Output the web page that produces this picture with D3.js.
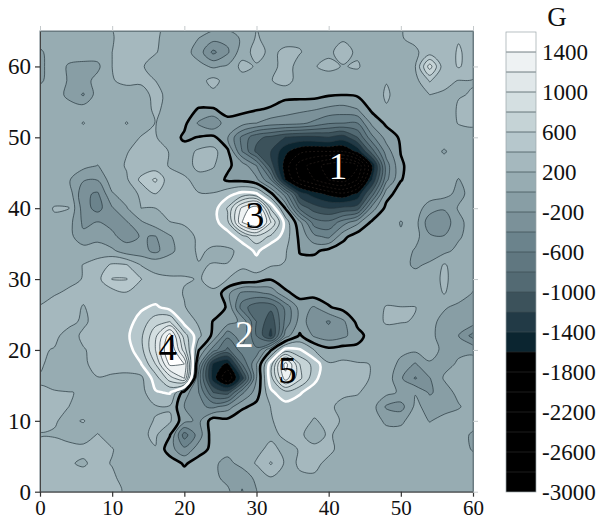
<!DOCTYPE html>
<html>
<head>
<meta charset="utf-8">
<script src="https://cdn.jsdelivr.net/npm/d3@7"></script>
<style>
  body { margin: 0; background: #fff; }
  text { font-family: "Liberation Serif", serif; fill: #111; }
</style>
</head>
<body>
<script>
// field in G, one row per y (66 at the top, 0 at the bottom), x = 0,2,...,60
const xValues = d3.range(0, 61, 2);
const yValues = d3.range(66, -1, -2);
const fieldRows = [
  [100,100,100,100,100,190,320,260,240,130,110,110,110,120,170,200,130,110,110,110,110,120,110,110,110,180,250,260,270,290,270],
  [100,100,100,100,110,180,330,250,230,120,60,0,-120,-150,40,220,130,130,170,100,120,180,110,100,130,190,240,280,290,380,300],
  [-40,120,110,110,90,200,270,240,210,130,80,-90,-450,-230,120,260,160,240,210,130,170,260,170,110,120,130,170,290,260,430,300],
  [-60,130,-30,-60,-40,200,280,220,130,120,100,60,-30,30,260,180,130,280,130,190,240,190,220,100,190,110,195,900,260,420,300],
  [-40,120,-20,-70,60,190,240,230,200,130,110,130,260,120,110,120,190,280,120,110,120,120,110,110,190,110,130,420,240,195,190],
  [110,110,-60,-220,100,110,120,130,250,150,110,110,150,100,100,110,100,60,70,70,20,5,30,80,230,110,130,200,180,190,210],
  [110,100,100,100,110,110,100,100,240,130,70,-10,-10,60,60,20,-20,-100,-150,-180,-240,-270,-200,50,180,110,100,100,100,220,280],
  [100,100,100,210,100,100,210,100,205,120,50,-230,-380,-50,-120,-200,-300,-320,-350,-450,-580,-600,-600,-150,40,100,100,100,100,210,240],
  [100,50,50,100,100,100,100,210,210,120,-40,10,50,-190,-650,-950,-1050,-1200,-1250,-1250,-1200,-1300,-1000,-450,-120,30,100,100,100,100,100],
  [100,130,100,100,100,100,190,260,280,190,100,240,270,40,-600,-1050,-1200,-1550,-1750,-1800,-1800,-1800,-1550,-900,-300,10,100,100,-20,100,100],
  [100,100,100,60,-5,100,220,270,260,190,110,260,220,30,-80,-400,-1100,-1700,-2100,-2300,-2500,-2600,-2400,-1600,-500,-30,100,100,100,100,100],
  [100,100,20,-180,-190,110,170,450,640,250,240,120,100,-30,-50,-150,-600,-1600,-2000,-2200,-2400,-2500,-2200,-1400,-450,-10,100,100,100,-10,100],
  [100,100,120,-360,-430,-20,100,230,395,280,290,210,210,330,470,430,60,-500,-1300,-1500,-1650,-1750,-1550,-900,-80,100,100,100,70,-60,80],
  [100,215,205,-300,-480,-220,-15,200,200,280,280,290,300,620,1250,1550,560,-10,-850,-1100,-1200,-1150,-1100,-300,60,100,100,-100,-180,20,100],
  [100,160,80,-240,-190,-240,-220,-30,110,195,220,280,310,550,1400,1650,1000,320,-150,-700,-750,-500,-250,40,100,-10,80,-330,-320,-60,100],
  [100,110,70,-150,-60,-170,-260,-190,-210,-20,130,230,270,300,520,750,560,300,-50,-350,-450,-60,110,100,100,20,70,-170,-190,-30,100],
  [100,100,100,100,90,40,-120,-120,-260,-50,100,230,170,170,240,450,220,220,-10,-40,60,110,100,100,100,100,-20,-100,-60,60,100],
  [130,130,130,205,290,430,410,190,170,130,160,190,205,205,220,300,220,190,40,100,100,100,100,100,100,60,-30,30,220,100,100],
  [130,150,170,205,340,610,610,410,220,220,210,195,220,200,150,120,20,130,110,100,100,100,20,100,100,100,80,100,240,100,60],
  [150,190,220,240,260,300,380,250,260,270,190,190,190,-150,-450,-450,-350,-50,80,100,100,100,100,100,100,100,100,100,210,100,-10],
  [210,250,260,190,260,280,280,370,440,320,210,110,110,-20,-700,-950,-950,-550,-120,-220,-20,70,100,100,215,205,205,100,20,-50,-60],
  [250,260,250,170,260,280,320,480,720,800,320,170,-10,-100,-250,-800,-1150,-550,-120,-300,-420,-240,60,100,225,210,190,60,-60,-100,-100],
  [250,240,130,230,260,290,360,560,950,1500,700,250,-50,-550,-250,-800,-1250,-300,30,-230,-320,-250,-80,100,100,100,100,50,-80,-200,-480],
  [220,190,130,190,240,280,300,530,1000,1650,900,10,-500,-850,-500,-550,-20,480,420,200,60,100,60,100,100,70,40,70,-40,-30,-60],
  [240,100,100,180,240,270,280,390,800,1450,1400,-300,-1450,-1650,-800,-200,500,1500,800,520,220,240,220,195,150,-70,-220,-20,-50,20,100],
  [170,100,100,90,195,170,150,150,500,900,1200,-500,-1500,-2000,-1300,-200,520,1300,850,460,230,240,240,190,120,-170,-420,-210,20,100,100],
  [230,220,205,190,110,100,100,120,380,420,-100,-400,-1000,-1100,-450,-100,360,520,420,300,205,220,210,150,60,-30,-10,-230,-100,60,100],
  [240,240,200,100,100,100,100,100,180,180,-200,-350,-450,-300,-40,60,205,330,300,240,220,170,150,90,-230,-280,40,-60,-70,-20,100],
  [240,210,170,210,110,100,100,150,210,230,-130,-250,120,60,150,130,185,280,250,190,230,190,120,100,-40,-40,100,-10,60,100,100],
  [190,190,150,130,210,110,100,170,230,10,-700,-300,120,120,120,130,160,230,220,150,215,160,100,100,80,80,100,100,100,100,-40],
  [250,250,250,240,260,210,100,130,190,-120,-350,-100,60,60,100,150,250,150,210,230,220,170,100,100,100,100,100,100,100,100,-20],
  [240,250,215,180,250,190,100,100,110,120,-30,100,30,-50,60,220,420,170,210,220,180,100,100,100,100,100,100,100,100,100,100],
  [250,260,260,260,250,230,130,100,100,100,110,120,50,-60,-120,50,190,130,190,190,100,100,100,100,100,100,100,100,100,100,100],
  [240,230,230,220,230,220,190,100,100,100,100,100,100,40,-220,-10,190,150,195,100,100,100,100,100,100,100,100,100,100,100,100]
];

// contour levels and the colour of the band above each one
const levels = d3.range(-3000, 1500, 200);
const bandColors = ["#000000","#000000","#000000","#000000","#000000","#000000","#000000",
  "#0b2530","#223a46","#3c525b","#536a73","#607780","#6b838c","#7b9199","#889ea5",
  "#97acb2","#a5b8be","#b6c7cc","#c5d3d6","#d4dfe1","#e1e8ea","#eef2f3","#ffffff"];
const barLabels = d3.range(-3000, 1500, 400);
const xTicks = d3.range(0, 61, 10);
const yTicks = d3.range(0, 61, 10);

// numbered regions: bold contour level, a point inside it, colour of the outline and the number
const regionNames = ["1", "2", "3", "4", "5"];
const regionLevels = [0, 0, 400, 400, 400];
const regionSeedX = [41, 26, 29, 18, 34.5];
const regionSeedY = [45, 17, 39, 20, 17];
const regionLabelX = [41.3, 28.3, 29.8, 17.7, 34.3];
const regionLabelY = [45.9, 22.2, 38.9, 20.3, 17];
const regionOutline = ["#000", "#000", "#fff", "#fff", "#fff"];
const regionText = ["#fff", "#fff", "#000", "#000", "#000"];

const width = 600, height = 520;
const plot = { left: 40, right: 473, top: 31, bottom: 491.7 };
const bar = { left: 506, right: 536, top: 32, bottom: 492 };

const svg = d3.select("body").append("svg")
  .attr("width", width)
  .attr("height", height);

const xScale = d3.scaleLinear().domain([0, 60]).range([plot.left, plot.right]);
const yScale = d3.scaleLinear().domain([0, 65]).range([plot.bottom, plot.top]);
const barScale = d3.scaleLinear().domain([-3000, 1600]).range([bar.bottom, bar.top]);

svg.append("clipPath").attr("id", "plot-clip")
  .append("rect")
  .attr("x", plot.left).attr("y", plot.top)
  .attr("width", plot.right - plot.left)
  .attr("height", plot.bottom - plot.top);

// flat grid with row 0 at y = 0
const nx = xValues.length, ny = yValues.length;
const grid = fieldRows.slice().reverse().flat();
const contours = d3.contours().size([nx, ny]).thresholds(levels)(grid);

// grid cell coordinates back to data units, d3.contours puts samples at cell centres
const toPixel = p => [xScale((p[0] - 0.5) * 2), yScale((p[1] - 0.5) * 2)];
const ringLine = d3.line().curve(d3.curveCatmullRomClosed);
const ringPath = ring => ringLine(ring.slice(0, -1).map(toPixel));
const allRings = c => c.coordinates.flat();

const map = svg.append("g").attr("clip-path", "url(#plot-clip)");

map.selectAll("path.band")
  .data(contours)
  .enter().append("path")
  .attr("class", "band")
  .attr("fill-rule", "evenodd")
  .attr("fill", (d, i) => bandColors[i])
  .attr("d", d => allRings(d).map(ringPath).join(""));

map.selectAll("path.line")
  .data(contours.filter(d => d.value > -3000))
  .enter().append("path")
  .attr("class", "line")
  .attr("fill", "none")
  .attr("stroke", d => d.value <= -1600 ? "#3a2e28" : "#27373d")
  .attr("stroke-width", d => d.value <= -1600 ? 0.5 : 0.7)
  .attr("stroke-dasharray", d => d.value <= -1600 ? "2,2" : null)
  .attr("d", d => allRings(d).map(ringPath).join(""));

// bold outlines: the smallest ring at the level that holds the region's point
regionNames.forEach((name, i) => {
  const level = contours.find(c => c.value === regionLevels[i]);
  const seed = [regionSeedX[i] / 2 + 0.5, regionSeedY[i] / 2 + 0.5];
  const ring = allRings(level)
    .filter(r => d3.polygonContains(r, seed))
    .sort((a, b) => Math.abs(d3.polygonArea(a)) - Math.abs(d3.polygonArea(b)))[0];
  if (!ring) return;
  map.append("path")
    .attr("fill", "none")
    .attr("stroke", regionOutline[i])
    .attr("stroke-width", 2.6)
    .attr("d", ringPath(ring));
});

map.selectAll("text.region")
  .data(regionNames)
  .enter().append("text")
  .attr("class", "region")
  .attr("x", (d, i) => xScale(regionLabelX[i]))
  .attr("y", (d, i) => yScale(regionLabelY[i]))
  .attr("dy", "0.33em")
  .attr("text-anchor", "middle")
  .style("font-size", "37px")
  .style("fill", (d, i) => regionText[i])
  .text(d => d);

// frame and axes
svg.append("rect")
  .attr("x", plot.left).attr("y", plot.top)
  .attr("width", plot.right - plot.left)
  .attr("height", plot.bottom - plot.top)
  .attr("fill", "none")
  .attr("stroke", "#6a7b81")
  .attr("stroke-width", 1);

const xAxis = svg.append("g")
  .attr("transform", `translate(0, ${plot.bottom})`)
  .call(d3.axisBottom(xScale).tickValues(xTicks).tickSize(5).tickSizeOuter(0).tickPadding(3));
const yAxis = svg.append("g")
  .attr("transform", `translate(${plot.left}, 0)`)
  .call(d3.axisLeft(yScale).tickValues(yTicks).tickSize(5).tickSizeOuter(0).tickPadding(4));
const topAxis = svg.append("g")
  .attr("transform", `translate(0, ${plot.top})`)
  .call(d3.axisTop(xScale).tickValues(xTicks).tickSize(5).tickSizeOuter(0).tickFormat(""));
const rightAxis = svg.append("g")
  .attr("transform", `translate(${plot.right}, 0)`)
  .call(d3.axisRight(yScale).tickValues(yTicks).tickSize(5).tickSizeOuter(0).tickFormat(""));

[xAxis, yAxis].forEach(a => {
  a.select(".domain").attr("stroke", "#444");
  a.selectAll(".tick line").attr("stroke", "#333").attr("stroke-width", 1.2);
  a.selectAll(".tick text").style("font-family", '"Liberation Serif", serif').style("fill", "#111");
});
xAxis.selectAll(".tick text").style("font-size", "21px");
yAxis.selectAll(".tick text").style("font-size", "23px");
[topAxis, rightAxis].forEach(a => {
  a.select(".domain").attr("stroke", "#6a7b81");
  a.selectAll(".tick line").attr("stroke", "#c4c9cb");
});

// colour bar
svg.selectAll("rect.bar-band")
  .data(levels)
  .enter().append("rect")
  .attr("class", "bar-band")
  .attr("x", bar.left)
  .attr("y", d => barScale(d + 200))
  .attr("width", bar.right - bar.left)
  .attr("height", d => barScale(d) - barScale(d + 200))
  .attr("fill", (d, i) => bandColors[i]);

svg.selectAll("line.bar-line")
  .data(levels.slice(1))
  .enter().append("line")
  .attr("class", "bar-line")
  .attr("x1", bar.left).attr("x2", bar.right)
  .attr("y1", d => barScale(d)).attr("y2", d => barScale(d))
  .attr("stroke", d => d <= -1600 ? "#2a2a2a" : "#3a4a50")
  .attr("stroke-width", 0.7);

svg.append("rect")
  .attr("x", bar.left).attr("y", bar.top)
  .attr("width", bar.right - bar.left)
  .attr("height", bar.bottom - bar.top)
  .attr("fill", "none")
  .attr("stroke", "#9aa5a9")
  .attr("stroke-width", 0.7);

svg.selectAll("text.bar-label")
  .data(barLabels)
  .enter().append("text")
  .attr("class", "bar-label")
  .attr("x", 542)
  .attr("y", d => barScale(d))
  .attr("dy", "0.33em")
  .style("font-size", "23px")
  .text(d => d);

svg.append("text")
  .attr("x", 557)
  .attr("y", 26)
  .attr("text-anchor", "middle")
  .style("font-size", "27px")
  .text("G");
</script>
</body>
</html>
